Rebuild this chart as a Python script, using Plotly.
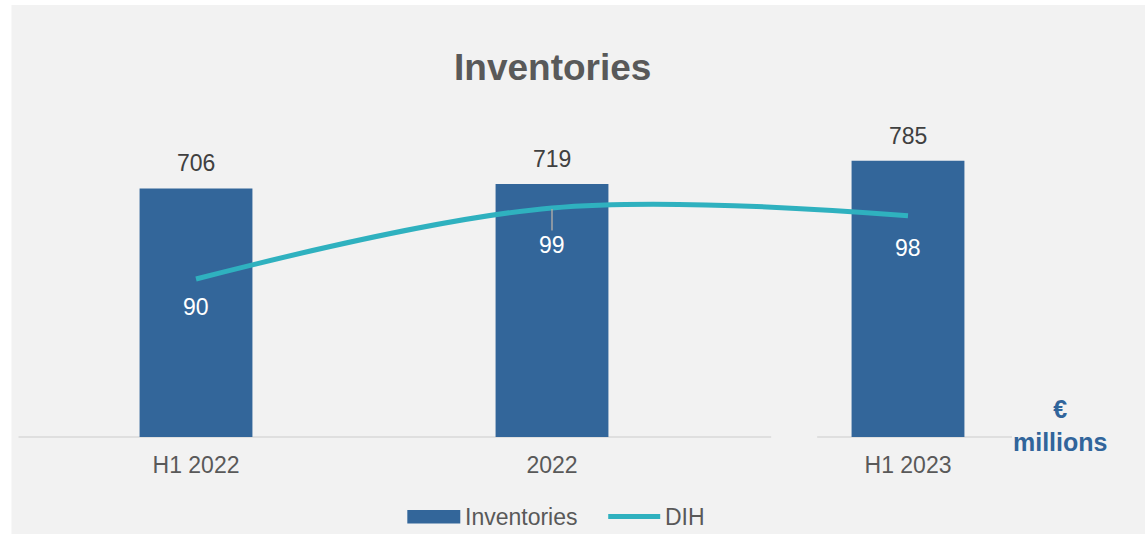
import plotly.graph_objects as go

# Data
periods = ["H1 2022", "2022", "H1 2023"]
inventories = [706, 719, 785]      # € millions
dih = [90, 99, 98]                 # days inventory on hand

W, H = 1145, 534
L, R, T, B = 17.5, 59, 60, 97
PW, PH = W - L - R, H - T - B

BAR = "#33669a"
TEAL = "#2fb1bf"
FONT = "Arial, Liberation Sans, sans-serif"


def px_x(px):
    return (px - L) / PW


def px_y(py):
    return (H - B - py) / PH


fig = go.Figure()
fig.add_trace(go.Bar(
    x=periods, y=inventories, name="Inventories",
    marker=dict(color=BAR, line=dict(width=0)), width=0.317,
    hoverinfo="x+y",
))
fig.add_trace(go.Scatter(
    x=periods, y=dih, name="DIH", yaxis="y2", mode="lines",
    line=dict(color=TEAL, width=5, shape="spline", smoothing=1.0),
))

annotations = []
# bar value labels (category index used as x so "2022" is not read as a number)
for i, v in enumerate(inventories):
    annotations.append(dict(
        x=i, y=v, xref="x", yref="y", text=str(v), showarrow=False,
        yanchor="middle", yshift=25, font=dict(size=23, color="#404040", family=FONT),
    ))
# DIH value labels
dih_shift = [-28, -37, -32]
for i, v in enumerate(dih):
    if i == 1:
        annotations.append(dict(
            x=i, y=v, xref="x", yref="y2", text=str(v), showarrow=True,
            ax=0, ay=-dih_shift[i], arrowhead=0, arrowwidth=1.5, arrowcolor="#a6a6a6",
            standoff=1, font=dict(size=23, color="#ffffff", family=FONT),
        ))
    else:
        annotations.append(dict(
            x=i, y=v, xref="x", yref="y2", text=str(v), showarrow=False,
            yanchor="middle", yshift=dih_shift[i],
            font=dict(size=23, color="#ffffff", family=FONT),
        ))
# title
annotations.append(dict(
    x=px_x(552), y=px_y(67), xref="paper", yref="paper", text="<b>Inventories</b>",
    showarrow=False, xanchor="center", yanchor="middle",
    font=dict(size=37, color="#595959", family=FONT),
))
# unit note
annotations.append(dict(
    x=px_x(1060), y=px_y(425), xref="paper", yref="paper", text="<b>€<br>millions</b>",
    showarrow=False, xanchor="center", yanchor="middle", align="center",
    font=dict(size=25, color="#31659b", family=FONT),
))
# legend labels
annotations.append(dict(
    x=px_x(463), y=px_y(517), xref="paper", yref="paper", text="Inventories",
    showarrow=False, xanchor="left", yanchor="middle",
    font=dict(size=23, color="#595959", family=FONT),
))
annotations.append(dict(
    x=px_x(663), y=px_y(517), xref="paper", yref="paper", text="DIH",
    showarrow=False, xanchor="left", yanchor="middle",
    font=dict(size=23, color="#595959", family=FONT),
))

shapes = [
    # panel background
    dict(type="rect", xref="paper", yref="paper", layer="below",
         x0=px_x(11), x1=px_x(W), y0=px_y(H), y1=px_y(5),
         fillcolor="#f2f2f2", line=dict(width=0)),
    # category axis baseline
    dict(type="line", xref="paper", yref="paper", layer="below",
         x0=px_x(18), x1=px_x(771), y0=0, y1=0, line=dict(color="#d9d9d9", width=1.5)),
    dict(type="line", xref="paper", yref="paper", layer="below",
         x0=px_x(817), x1=px_x(1012), y0=0, y1=0, line=dict(color="#d9d9d9", width=1.5)),
    # legend swatches
    dict(type="rect", xref="paper", yref="paper",
         x0=px_x(407), x1=px_x(460), y0=px_y(523.5), y1=px_y(510),
         fillcolor=BAR, line=dict(width=0)),
    dict(type="line", xref="paper", yref="paper",
         x0=px_x(608), x1=px_x(660), y0=px_y(516.5), y1=px_y(516.5),
         line=dict(color=TEAL, width=5)),
]

fig.update_layout(
    width=W, height=H,
    margin=dict(l=L, r=R, t=T, b=B, pad=0),
    paper_bgcolor="#ffffff", plot_bgcolor="rgba(0,0,0,0)",
    showlegend=False,
    font=dict(family=FONT, color="#595959"),
    xaxis=dict(type="category", range=[-0.5, 2.5], showgrid=False, showline=False,
               zeroline=False, ticks="", tickfont=dict(size=23, color="#595959"),
               ticklabelstandoff=12),
    yaxis=dict(range=[0, PH / 0.352], visible=False, showgrid=False, zeroline=False),
    yaxis2=dict(range=[70, 70 + PH / 7.9], overlaying="y", visible=False,
                showgrid=False, zeroline=False),
    annotations=annotations,
    shapes=shapes,
)

fig.write_html("out.html")
